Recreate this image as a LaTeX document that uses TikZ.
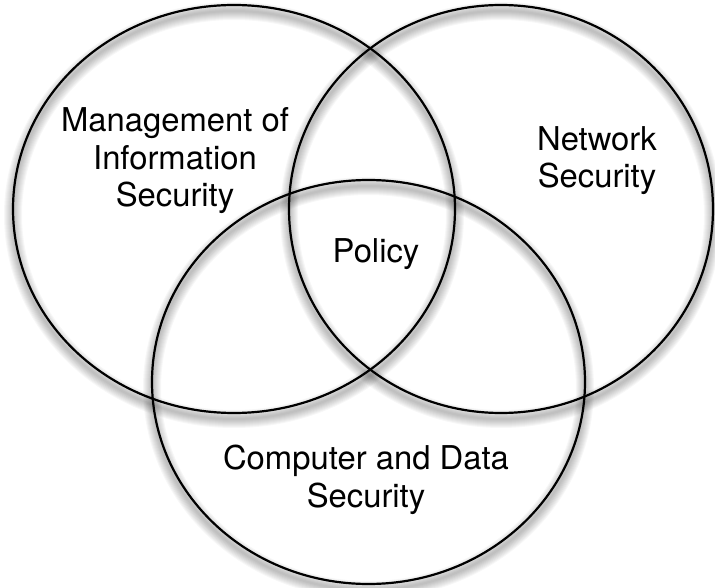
\documentclass[tikz,border=0pt]{standalone}
\usepackage{fontspec}
\setmainfont{TeX Gyre Heros}
\usetikzlibrary{calc}

\begin{document}
\begin{tikzpicture}[x=1pt, y=-1pt,
  ring/.style={draw=black, line width=2.2pt},
  halo/.style={draw=black, draw opacity=0.03},
  label/.style={align=center, anchor=base, inner sep=0pt,
    font=\fontsize{32.8}{37.5}\selectfont}]
  \useasboundingbox (0,0) rectangle (715,588);
  \coordinate (L) at (234,209);
  \coordinate (R) at (501,209);
  \coordinate (B) at (368.5,382);
  % soft shadow under the rings
  \foreach \w in {2,4,...,18} {
    \draw[halo, line width=\w pt] ($(L)+(0,6)$) ellipse [x radius=221, y radius=204];
    \draw[halo, line width=\w pt] ($(R)+(0,6)$) ellipse [x radius=212, y radius=204];
    \draw[halo, line width=\w pt] ($(B)+(0,6)$) ellipse [x radius=216.5, y radius=202];
  }
  % the three rings
  \draw[ring] (L) ellipse [x radius=221, y radius=204];
  \draw[ring] (R) ellipse [x radius=212, y radius=204];
  \draw[ring] (B) ellipse [x radius=216.5, y radius=202];
  \node[label] (mgmt) at (175,207) {Management of\\Information\\Security};
  \node[label] (net) at (597,188) {Network\\Security};
  \node[label] (pol) at (376,262) {Policy};
  \node[label] (comp) at (366,507) {Computer and Data\\Security};
\end{tikzpicture}
\end{document}
